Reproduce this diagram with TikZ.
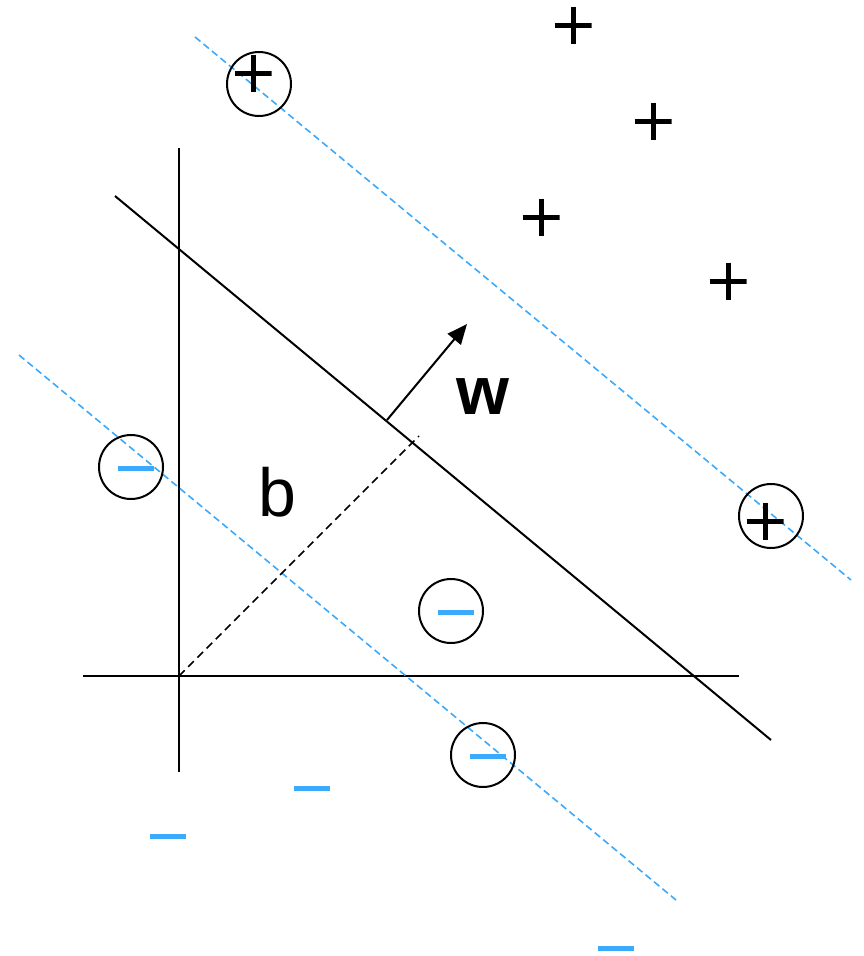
\documentclass[tikz,border=0pt]{standalone}
\usepackage{fontspec}
\setmainfont{Liberation Sans}
\usepackage{tikz}
\usetikzlibrary{arrows.meta}

\definecolor{marginblue}{RGB}{60,170,250}

\begin{document}
\begin{tikzpicture}[
    x=1pt,y=-1pt,
    axis/.style={line width=2pt},
    margin/.style={marginblue,line width=1.6pt,dash pattern=on 7pt off 4pt},
    offset/.style={line width=1.7pt,dash pattern=on 8pt off 5pt},
    plusmark/.style={minimum size=37pt,inner sep=0pt,
      path picture={\draw[line width=5pt]
        (path picture bounding box.north) -- (path picture bounding box.south)
        (path picture bounding box.west) -- (path picture bounding box.east);}},
    minusmark/.style={fill=marginblue,minimum width=36pt,minimum height=5pt,inner sep=0pt},
    sv/.style={circle,draw,line width=2pt,minimum size=64pt,inner sep=0pt},
    lab/.style={font=\fontsize{68}{80}\selectfont}
]
\useasboundingbox (0,0) rectangle (863,956);

% axes
\coordinate (O) at (179,676);
\coordinate (ytop) at (179,148);
\coordinate (ybot) at (179,772);
\coordinate (xl) at (83,676);
\coordinate (xr) at (739,676);
\draw[axis] (ybot) -- (ytop);
\draw[axis] (xl) -- (xr);

% decision boundary and margins
\coordinate (h1) at (115,196);
\coordinate (h2) at (771,740);
\coordinate (m1) at (195,37);
\coordinate (m2) at (851,580);
\coordinate (n1) at (19,355);
\coordinate (n2) at (676,900);
\draw[axis] (h1) -- (h2);
\draw[margin] (m1) -- (m2);
\draw[margin] (n1) -- (n2);

% offset b and normal w
\coordinate (foot) at (419,436);
\coordinate (wbase) at (387,420);
\coordinate (wtip) at (467,324);
\draw[offset] (O) -- (foot);
\draw[axis,-{Triangle[length=20pt,width=17pt]}] (wbase) -- (wtip);
\node[lab] (b) at (277,492) {b};
\node[lab,font=\fontsize{68}{80}\selectfont\bfseries] (w) at (483,397) {w};

% positive samples
\node[plusmark] (p1) at (573,25) {};
\node[plusmark] (p2) at (653,121) {};
\node[plusmark] (p3) at (541,217) {};
\node[plusmark] (p4) at (728,281) {};

% negative samples
\node[minusmark] (q1) at (312,788) {};
\node[minusmark] (q2) at (168,836) {};
\node[minusmark] (q3) at (616,948) {};

% support vectors
\node[sv] (s1) at (259,84) {};
\node[plusmark] (s1m) at (253,73) {};
\node[sv] (s2) at (771,516) {};
\node[plusmark] (s2m) at (765,521) {};
\node[sv] (s3) at (131,467) {};
\node[minusmark] (s3m) at (136,468) {};
\node[sv] (s4) at (451,611) {};
\node[minusmark] (s4m) at (456,612) {};
\node[sv] (s5) at (483,755) {};
\node[minusmark] (s5m) at (488,756) {};

\end{tikzpicture}
\end{document}
